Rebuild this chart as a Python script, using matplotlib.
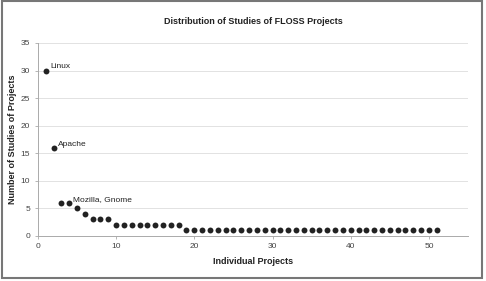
import matplotlib.pyplot as plt
from matplotlib.patches import Rectangle

plt.rcParams['font.family'] = ['Liberation Sans', 'DejaVu Sans']

# project rank vs. number of studies
projects = list(range(1, 52))
studies = [30, 16, 6, 6, 5, 4, 3, 3, 3] + [2] * 9 + [1] * 33

labels = {1: "Linux", 2: "Apache", 4: "Mozilla, Gnome"}

fig = plt.figure(figsize=(4.86, 2.81), dpi=100)
ax = fig.add_axes([0.078, 0.161, 0.885, 0.686])

ax.scatter(projects, studies, s=18, color='#222222', zorder=3, linewidths=0)

for idx, name in labels.items():
    ax.annotate(name, (projects[idx - 1], studies[idx - 1]), xytext=(3, 1.5),
                textcoords='offset points', fontsize=6, color='#222222')

ax.set_xlim(0, 55)
ax.set_ylim(0, 35)
ax.set_xticks([0, 10, 20, 30, 40, 50])
ax.set_yticks(range(0, 36, 5))
ax.grid(axis='y', color='#e2e2e2', linewidth=0.7)
ax.set_axisbelow(True)
for side in ['top', 'right']:
    ax.spines[side].set_visible(False)
for side in ['left', 'bottom']:
    ax.spines[side].set_color('#aaaaaa')
    ax.spines[side].set_linewidth(0.7)
ax.tick_params(labelsize=6, colors='#444444', length=2, width=0.6)
ax.tick_params(axis='both', color='#aaaaaa')

ax.set_title("Distribution of Studies of FLOSS Projects", fontsize=6.5,
             fontweight='bold', color='#222222', pad=14)
ax.set_xlabel("Individual Projects", fontsize=6.5, fontweight='bold', color='#222222', labelpad=5)
ax.set_ylabel("Number of Studies of Projects", fontsize=6.5, fontweight='bold', color='#222222', labelpad=3)

fig.patches.append(Rectangle((0.004, 0.012), 0.988, 0.985, transform=fig.transFigure,
                             fill=False, edgecolor='#777777', linewidth=1.5))

fig.savefig("out.png", dpi=100)
